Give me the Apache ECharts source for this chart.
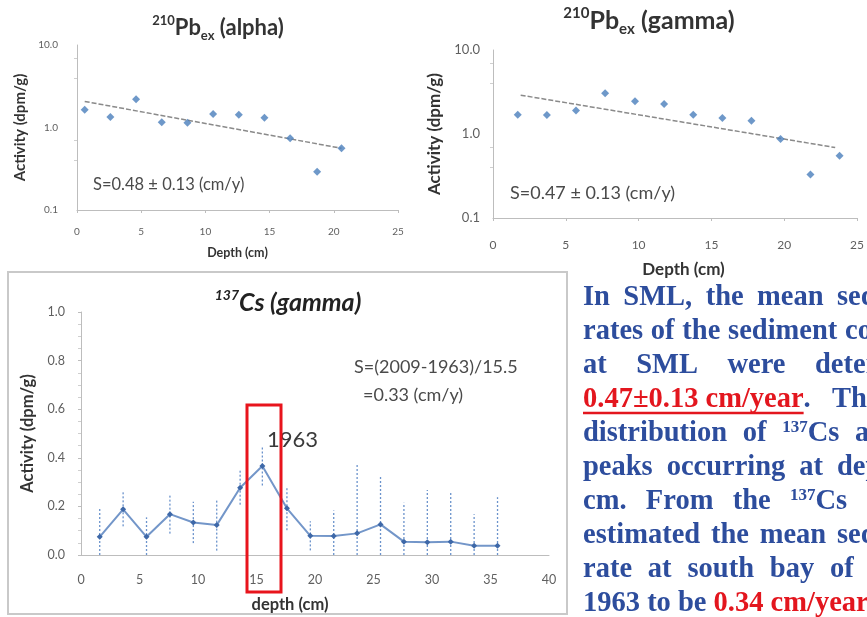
<!DOCTYPE html>
<html><head><meta charset="utf-8">
<script src="https://cdn.jsdelivr.net/npm/echarts@6/dist/echarts.min.js"></script>
<style>html,body{margin:0;padding:0;background:#fff;overflow:hidden}#c{width:867px;height:617px;}</style>
</head><body><div id="c"></div>
<script>
// ---- 210Pb_ex (alpha) ----
const alphaDepth = [0.6, 2.6, 4.6, 6.6, 8.6, 10.6, 12.6, 14.6, 16.6, 18.7, 20.6];
const alphaAct   = [1.64, 1.34, 2.2, 1.16, 1.14, 1.46, 1.43, 1.31, 0.74, 0.29, 0.56];
const alphaFitDepth = [0.6, 20.6];
const alphaFitAct   = [2.07, 0.56];
// ---- 210Pb_ex (gamma) ----
const gammaDepth = [1.7, 3.7, 5.7, 7.7, 9.75, 11.75, 13.75, 15.75, 17.75, 19.75, 21.8, 23.8];
const gammaAct   = [1.70, 1.68, 1.90, 3.05, 2.45, 2.28, 1.70, 1.55, 1.44, 0.87, 0.33, 0.55];
const gammaFitDepth = [1.9, 23.5];
const gammaFitAct   = [2.9, 0.69];
// ---- 137Cs (gamma) ----
const csDepth = [1.6, 3.6, 5.6, 7.6, 9.6, 11.6, 13.6, 15.5, 17.6, 19.6, 21.6, 23.6, 25.6, 27.6, 29.6, 31.6, 33.6, 35.6];
const csAct   = [0.075, 0.188, 0.075, 0.168, 0.134, 0.123, 0.277, 0.366, 0.192, 0.079, 0.078, 0.089, 0.126, 0.055, 0.052, 0.055, 0.038, 0.038];
const csErr   = [0.12, 0.07, 0.08, 0.08, 0.085, 0.105, 0.07, 0.08, 0.09, 0.06, 0.105, 0.285, 0.2, 0.16, 0.215, 0.205, 0.13, 0.2];
// ---- tick labels ----
const pbXTicks = [0, 5, 10, 15, 20, 25];
const pbYTicks = ['0.1', '1.0', '10.0'];
const csXTicks = [0, 5, 10, 15, 20, 25, 30, 35, 40];
const csYTicks = ['0.0', '0.2', '0.4', '0.6', '0.8', '1.0'];
// ---- paragraph (the slide is cropped on the right) ----
const paraLines = [
  ['In', 'SML,', 'the', 'mean', 'sedimentation'],
  ['rates', 'of', 'the', 'sediment', 'cores'],
  ['at', 'SML', 'were', 'determined'],
  ['{r|0.47\u00b10.13 cm/year}.', 'The'],
  ['distribution', 'of', '{sup|137}Cs', 'activity'],
  ['peaks', 'occurring', 'at', 'depth'],
  ['cm.', 'From', 'the', '{sup|137}Cs'],
  ['estimated', 'the', 'mean', 'sedimentation'],
  ['rate', 'at', 'south', 'bay', 'of'],
  ['1963', 'to', 'be', '{r|0.34 cm/year.}']
];
// left edge of the paragraph and start of each line's last visible word (null = normal spacing)
const paraLeft = 583;
const paraLastX = [837, 845, 815, 832, 855, 837, 790, 837, 830, null];

const chart = echarts.init(document.getElementById('c'), null, {renderer: 'canvas'});
const FONT = 'Lato, "Open Sans", sans-serif';
const axisGray = '#bdbdbd';
const lblColor = '#5f5f5f';

function pbX(gi, margin, nameGap, fs, nfs, pad) {
  return {
    type: 'value', gridIndex: gi, min: 0, max: 25, interval: 5,
    axisLine: {show: true, lineStyle: {color: axisGray}},
    axisTick: {show: true, length: 3, lineStyle: {color: axisGray}},
    splitLine: {show: false},
    axisLabel: {color: lblColor, fontSize: fs, fontFamily: FONT, margin: margin,
      formatter: v => pbXTicks.includes(v) ? String(v) : ''},
    name: 'Depth (cm)', nameLocation: 'middle', nameGap: nameGap,
    nameTextStyle: {color: '#333', fontSize: nfs, fontWeight: 'bold', fontFamily: FONT, padding: pad || 0}
  };
}
function pbY(gi, margin, nameGap, fs, nfs) {
  return {
    type: 'log', logBase: 10, gridIndex: gi, min: 0.1, max: 10,
    axisLine: {show: true, lineStyle: {color: axisGray}},
    axisTick: {show: false},
    minorTick: {show: true, splitNumber: 3, length: 3, lineStyle: {color: '#cfcfcf'}},
    splitLine: {show: false},
    axisLabel: {color: lblColor, fontSize: fs, fontFamily: FONT, margin: margin,
      formatter: v => { const s = Number(v).toFixed(1); return pbYTicks.includes(s) ? s : ''; }},
    name: 'Activity (dpm/g)', nameLocation: 'middle', nameGap: nameGap, nameRotate: 90,
    nameTextStyle: {color: '#333', fontSize: nfs, fontWeight: 'bold', fontFamily: FONT}
  };
}

const graphics = [];
graphics.push({type: 'rect', shape: {x: 8, y: 272, width: 559, height: 342},
  style: {fill: 'none', stroke: '#c9c9c9', lineWidth: 2}, z: 0});
const richTitle = (fs) => ({
  sup: {fontSize: Math.round(fs * 0.6), fontWeight: 'bold', fontFamily: FONT, fill: '#333', verticalAlign: 'top', lineHeight: fs + 6},
  sub: {fontSize: Math.round(fs * 0.6), fontWeight: 'bold', fontFamily: FONT, fill: '#333', verticalAlign: 'bottom', lineHeight: fs + 6},
  m: {fontSize: fs, fontWeight: 'bold', fontFamily: FONT, fill: '#333', lineHeight: fs + 6}
});
graphics.push({type: 'text', x: 218, y: 28, z: 10, style: {text: '{sup|210}{m|Pb}{sub|ex}{m| (alpha)}',
  align: 'center', verticalAlign: 'middle', rich: richTitle(22)}});
graphics.push({type: 'text', x: 649, y: 21, z: 10, style: {text: '{sup|210}{m|Pb}{sub|ex}{m| (gamma)}',
  align: 'center', verticalAlign: 'middle', rich: richTitle(25)}});
graphics.push({type: 'text', x: 288, y: 303, z: 10, style: {text: '{sup|137}{m|Cs (gamma)}',
  align: 'center', verticalAlign: 'middle', rich: {
    sup: {fontSize: 14, fontWeight: 'bold', fontStyle: 'italic', fontFamily: FONT, fill: '#222', verticalAlign: 'top', lineHeight: 30},
    m: {fontSize: 25, fontWeight: 'bold', fontStyle: 'italic', fontFamily: FONT, fill: '#222', lineHeight: 30}
  }}});
graphics.push({type: 'text', x: 93, y: 185, z: 10, style: {text: 'S=0.48 \u00b1 0.13 (cm/y)', fill: '#4a4a4a',
  font: '16.5px ' + FONT, verticalAlign: 'middle'}});
graphics.push({type: 'text', x: 510, y: 193, z: 10, style: {text: 'S=0.47 \u00b1 0.13 (cm/y)', fill: '#4a4a4a',
  font: '18px ' + FONT, verticalAlign: 'middle'}});
graphics.push({type: 'text', x: 354, y: 367, z: 10, style: {text: 'S=(2009-1963)/15.5', fill: '#4a4a4a',
  font: '18px ' + FONT, verticalAlign: 'middle'}});
graphics.push({type: 'text', x: 363, y: 395, z: 10, style: {text: '=0.33 (cm/y)', fill: '#4a4a4a',
  font: '18px ' + FONT, verticalAlign: 'middle'}});
graphics.push({type: 'text', x: 267, y: 440, z: 10, style: {text: '1963', fill: '#3a3a3a',
  font: '22px ' + FONT, verticalAlign: 'middle'}});
graphics.push({type: 'rect', shape: {x: 247, y: 405, width: 34, height: 187}, z: 20,
  style: {fill: 'none', stroke: '#e8141c', lineWidth: 3}});

// paragraph, justified line by line
const BLUE = '#2d4d9d', RED = '#e3161e';
const PFS = 28.5, SUPFS = 17;
const PFAM = '"Liberation Serif", "Times New Roman", serif';
const ctx = document.createElement('canvas').getContext('2d');
function measure(w) {
  let total = 0;
  const re = /\{(\w+)\|([^}]*)\}|([^{]+)/g;
  let m;
  while ((m = re.exec(w))) {
    if (m[1]) {
      ctx.font = 'bold ' + (m[1] === 'sup' ? SUPFS : PFS) + 'px ' + PFAM;
      total += ctx.measureText(m[2]).width;
    } else {
      ctx.font = 'bold ' + PFS + 'px ' + PFAM;
      total += ctx.measureText(m[3]).width;
    }
  }
  return total;
}
ctx.font = 'bold ' + PFS + 'px ' + PFAM;
const spaceW = ctx.measureText(' ').width;
const paraRich = {
  sup: {fontSize: SUPFS, fontWeight: 'bold', fontFamily: PFAM, fill: BLUE, verticalAlign: 'top', lineHeight: 27},
  r: {fontSize: PFS, fontWeight: 'bold', fontFamily: PFAM, fill: RED, lineHeight: 27}
};
paraLines.forEach((words, li) => {
  const baseline = 307 + li * 34;
  const widths = words.map(measure);
  let gap = spaceW;
  if (paraLastX[li] != null && words.length > 1) {
    const used = widths.slice(0, -1).reduce((a, b) => a + b, 0);
    gap = (paraLastX[li] - paraLeft - used) / (words.length - 1);
  }
  let x = paraLeft;
  words.forEach((w, wi) => {
    graphics.push({type: 'text', x: x, y: baseline - 9.5, z: 10, style: {
      text: w, verticalAlign: 'middle', fill: BLUE,
      font: 'bold ' + PFS + 'px ' + PFAM, rich: paraRich
    }});
    x += widths[wi] + gap;
  });
});
ctx.font = 'bold ' + PFS + 'px ' + PFAM;
const ulW = ctx.measureText('0.47\u00b10.13 cm/year').width;
graphics.push({type: 'line', z: 10, shape: {x1: paraLeft, y1: 413, x2: paraLeft + ulW, y2: 413}, style: {stroke: RED, lineWidth: 2.5}});

const option = {
  backgroundColor: '#ffffff',
  animation: false,
  grid: [
    {left: 77, top: 45, width: 321, height: 165},
    {left: 493, top: 50, width: 365, height: 168},
    {left: 81, top: 312, width: 468, height: 243}
  ],
  xAxis: [
    pbX(0, 17, 36, 10, 12.5),
    pbX(1, 21, 43, 12, 17, [0, 0, 0, 17]),
    {
      type: 'value', gridIndex: 2, min: 0, max: 40, interval: 5,
      axisLine: {show: true, lineStyle: {color: axisGray}},
      axisTick: {show: false},
      splitLine: {show: false},
      axisLabel: {color: lblColor, fontSize: 12.5, fontFamily: FONT, margin: 18,
        formatter: v => csXTicks.includes(v) ? String(v) : ''},
      name: 'depth (cm)', nameLocation: 'middle', nameGap: 41,
      nameTextStyle: {color: '#333', fontSize: 16.5, fontWeight: 'bold', fontFamily: FONT, padding: [0, 50, 0, 0]}
    }
  ],
  yAxis: [
    pbY(0, 19, 49, 10, 15),
    pbY(1, 13, 50, 13, 17),
    {
      type: 'value', gridIndex: 2, min: 0, max: 1, interval: 0.2,
      axisLine: {show: true, lineStyle: {color: axisGray}},
      axisTick: {show: true, length: 3, lineStyle: {color: axisGray}},
      minorTick: {show: true, splitNumber: 4, length: 3, lineStyle: {color: '#cfcfcf'}},
      splitLine: {show: false},
      axisLabel: {color: lblColor, fontSize: 12.5, fontFamily: FONT, margin: 16,
        formatter: v => { const s = Number(v).toFixed(1); return csYTicks.includes(s) ? s : ''; }},
      name: 'Activity (dpm/g)', nameLocation: 'middle', nameGap: 42, nameRotate: 90,
      nameTextStyle: {color: '#333', fontSize: 16.5, fontWeight: 'bold', fontFamily: FONT}
    }
  ],
  series: [
    {type: 'line', xAxisIndex: 0, yAxisIndex: 0, data: alphaFitDepth.map((d, i) => [d, alphaFitAct[i]]),
      symbol: 'none', lineStyle: {color: '#8a8a8a', width: 1.5, type: [5, 2]}, z: 2, silent: true},
    {type: 'scatter', xAxisIndex: 0, yAxisIndex: 0, data: alphaDepth.map((d, i) => [d, alphaAct[i]]),
      symbol: 'diamond', symbolSize: 8, itemStyle: {color: '#4a7ebb'}, z: 3},
    {type: 'line', xAxisIndex: 1, yAxisIndex: 1, data: gammaFitDepth.map((d, i) => [d, gammaFitAct[i]]),
      symbol: 'none', lineStyle: {color: '#8a8a8a', width: 1.5, type: [5, 2]}, z: 2, silent: true},
    {type: 'scatter', xAxisIndex: 1, yAxisIndex: 1, data: gammaDepth.map((d, i) => [d, gammaAct[i]]),
      symbol: 'diamond', symbolSize: 8, itemStyle: {color: '#4a7ebb'}, z: 3},
    {type: 'custom', xAxisIndex: 2, yAxisIndex: 2, z: 1,
      data: csDepth.map((d, i) => [d, Math.max(0, csAct[i] - csErr[i]), csAct[i] + csErr[i]]),
      renderItem: (params, api) => {
        const lo = api.coord([api.value(0), api.value(1)]);
        const hi = api.coord([api.value(0), api.value(2)]);
        return {type: 'line', shape: {x1: lo[0], y1: lo[1], x2: hi[0], y2: hi[1]},
          style: {stroke: '#6b93cc', lineWidth: 1.3, lineDash: [2, 2]}};
      }},
    {type: 'line', xAxisIndex: 2, yAxisIndex: 2, data: csDepth.map((d, i) => [d, csAct[i]]),
      symbol: 'diamond', symbolSize: 6, showSymbol: true,
      lineStyle: {color: '#7396c9', width: 2}, itemStyle: {color: '#3e68a8'}, z: 3}
  ],
  graphic: graphics
};
chart.setOption(option);
</script>
</body></html>
